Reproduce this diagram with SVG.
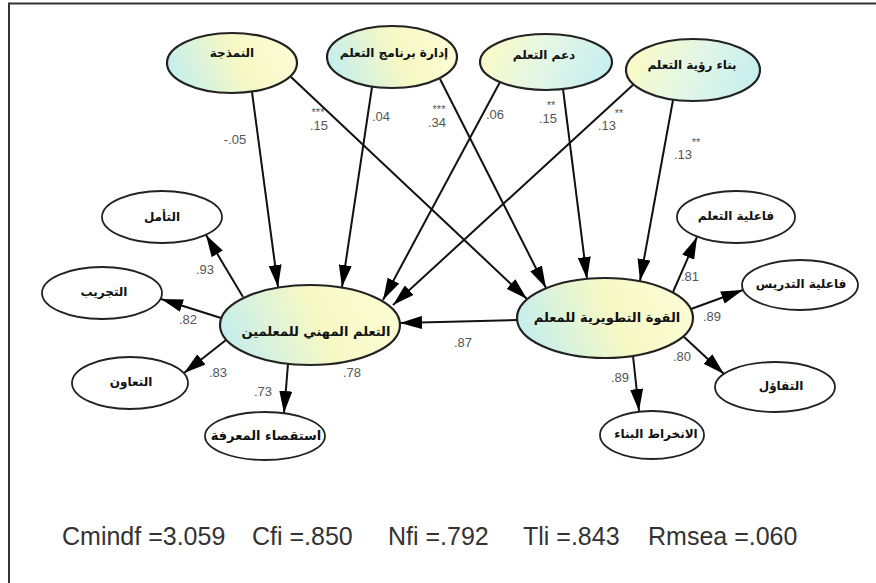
<svg xmlns="http://www.w3.org/2000/svg" width="876" height="583" viewBox="0 0 876 583">
  <style>
    .lat { stroke: #222; stroke-width: 2.2; }
    .obs { fill: #fff; stroke: #222; stroke-width: 1.8; }
    .ar { font-family: "DejaVu Sans", "Noto Sans", sans-serif; font-weight: bold; font-size: 12px; fill: #111; text-anchor: middle; }
    .big { font-size: 13px; }
    .co { font-family: "Liberation Sans", Arial, sans-serif; font-size: 13px; fill: #555; text-anchor: middle; }
    .st { font-size: 11px; }
    .fit { font-family: "Liberation Sans", Arial, sans-serif; font-size: 25px; fill: #333; }
    .ln { stroke: #111; stroke-width: 2; fill: none; marker-end: url(#ah); }
  </style>
  <defs>
    <linearGradient id="cyYl" x1="0" y1="0.6" x2="1" y2="0.4">
      <stop offset="0" stop-color="#c4eeee"/>
      <stop offset="0.55" stop-color="#f6f8c4"/>
      <stop offset="1" stop-color="#fdfdd6"/>
    </linearGradient>
    <linearGradient id="ylCy" x1="0" y1="0.4" x2="1" y2="0.6">
      <stop offset="0" stop-color="#fbfbc6"/>
      <stop offset="0.5" stop-color="#e2f6e6"/>
      <stop offset="1" stop-color="#c6eef0"/>
    </linearGradient>
    <marker id="ah" markerUnits="userSpaceOnUse" markerWidth="22" markerHeight="13" viewBox="0 0 22 13" refX="22" refY="6.5" orient="auto">
      <path d="M0,0 L22,6.5 L0,13 z" fill="#000"/>
    </marker>
  </defs>

  <rect width="876" height="583" fill="#fff"/>
  <!-- frame -->
  <path d="M9,583 V3.5 H876" fill="none" stroke="#333" stroke-width="2"/>

  <!-- connectors -->
  <g id="connectors">
    <line class="ln" x1="252" y1="92" x2="278" y2="287"/>
    <line class="ln" x1="291" y1="77" x2="527" y2="299"/>
    <line class="ln" x1="372" y1="87" x2="342" y2="287"/>
    <line class="ln" x1="440" y1="79" x2="546" y2="288"/>
    <line class="ln" x1="500" y1="82" x2="383" y2="300"/>
    <line class="ln" x1="634" y1="84" x2="393" y2="305"/>
    <line class="ln" x1="563" y1="89" x2="587" y2="279"/>
    <line class="ln" x1="673" y1="100" x2="640" y2="281"/>
    <line class="ln" x1="517" y1="320" x2="400" y2="323"/>

    <line class="ln" x1="243" y1="297" x2="206" y2="235"/>
    <line class="ln" x1="221" y1="318" x2="161" y2="299"/>
    <line class="ln" x1="226" y1="340" x2="184" y2="373"/>
    <line class="ln" x1="288" y1="364" x2="284" y2="413"/>

    <line class="ln" x1="673" y1="292" x2="697" y2="237"/>
    <line class="ln" x1="691" y1="309" x2="743" y2="290"/>
    <line class="ln" x1="683" y1="336" x2="724" y2="374"/>
    <line class="ln" x1="633" y1="356" x2="639" y2="411"/>
  </g>

  <!-- exogenous factors -->
  <g id="modeling">
    <ellipse class="lat" cx="232" cy="63" rx="65" ry="30" fill="url(#cyYl)"/>
    <text class="ar" x="232" y="57">النمذجة</text>
  </g>
  <g id="program-management">
    <ellipse class="lat" cx="392" cy="57" rx="65" ry="31" fill="url(#cyYl)"/>
    <text class="ar" x="394" y="57">إدارة برنامج التعلم</text>
  </g>
  <g id="learning-support">
    <ellipse class="lat" cx="546" cy="62" rx="66" ry="28" fill="url(#ylCy)"/>
    <text class="ar" x="544" y="59">دعم التعلم</text>
  </g>
  <g id="learning-vision">
    <ellipse class="lat" cx="693" cy="70" rx="67" ry="31" fill="url(#ylCy)"/>
    <text class="ar" x="692" y="69">بناء رؤية التعلم</text>
  </g>

  <!-- latent outcomes -->
  <g id="professional-learning">
    <ellipse class="lat" cx="310" cy="325" rx="90" ry="40" fill="url(#cyYl)"/>
    <text class="ar big" x="316" y="336">التعلم المهني للمعلمين</text>
  </g>
  <g id="developmental-power">
    <ellipse class="lat" cx="605" cy="318" rx="88" ry="40" fill="url(#cyYl)"/>
    <text class="ar big" x="607" y="322">القوة التطويرية للمعلم</text>
  </g>

  <!-- indicators of professional learning -->
  <g id="reflection">
    <ellipse class="obs" cx="162" cy="217" rx="60" ry="26"/>
    <text class="ar" x="162" y="221">التأمل</text>
  </g>
  <g id="experimentation">
    <ellipse class="obs" cx="102" cy="293" rx="60" ry="26"/>
    <text class="ar" x="104" y="296">التجريب</text>
  </g>
  <g id="collaboration">
    <ellipse class="obs" cx="130" cy="383" rx="58" ry="26"/>
    <text class="ar" x="131" y="386">التعاون</text>
  </g>
  <g id="inquiry">
    <ellipse class="obs" cx="265" cy="436" rx="60" ry="24"/>
    <text class="ar big" x="266" y="440">استقصاء المعرفة</text>
  </g>

  <!-- indicators of developmental power -->
  <g id="learning-efficacy">
    <ellipse class="obs" cx="736" cy="217" rx="59" ry="26"/>
    <text class="ar" x="736" y="220">فاعلية التعلم</text>
  </g>
  <g id="teaching-efficacy">
    <ellipse class="obs" cx="800" cy="285" rx="58" ry="25"/>
    <text class="ar" x="801" y="288">فاعلية التدريس</text>
  </g>
  <g id="optimism">
    <ellipse class="obs" cx="775" cy="387" rx="60" ry="25"/>
    <text class="ar" x="781" y="390">التفاؤل</text>
  </g>
  <g id="engagement">
    <ellipse class="obs" cx="652" cy="435" rx="52" ry="24"/>
    <text class="ar" x="656" y="438">الانخراط البناء</text>
  </g>

  <!-- path coefficients; significance stars sit just above the value -->
  <g id="coefficients">
    <text class="co" x="235" y="144">-.05</text>
    <text class="co st" x="318" y="115.5">***</text>
    <text class="co" x="319" y="130">.15</text>
    <text class="co" x="381" y="121">.04</text>
    <text class="co st" x="439" y="112.5">***</text>
    <text class="co" x="437" y="127">.34</text>
    <text class="co" x="495" y="119">.06</text>
    <text class="co st" x="551" y="108.5">**</text>
    <text class="co" x="548" y="123">.15</text>
    <text class="co st" x="619" y="117">**</text>
    <text class="co" x="607" y="130">.13</text>
    <text class="co st" x="696" y="146">**</text>
    <text class="co" x="683" y="159">.13</text>

    <text class="co" x="205" y="274">.93</text>
    <text class="co" x="188" y="324">.82</text>
    <text class="co" x="218" y="377">.83</text>
    <text class="co" x="263" y="396">.73</text>
    <text class="co" x="352" y="377">.78</text>
    <text class="co" x="463" y="347">.87</text>
    <text class="co" x="690" y="281">.81</text>
    <text class="co" x="712" y="321">.89</text>
    <text class="co" x="682" y="361">.80</text>
    <text class="co" x="620" y="382">.89</text>
  </g>

  <!-- fit indices -->
  <g id="fit-indices">
    <text class="fit" x="62" y="545">Cmindf =3.059</text>
    <text class="fit" x="252" y="545">Cfi =.850</text>
    <text class="fit" x="388" y="545">Nfi =.792</text>
    <text class="fit" x="523" y="545">Tli =.843</text>
    <text class="fit" x="648" y="545">Rmsea =.060</text>
  </g>
</svg>
